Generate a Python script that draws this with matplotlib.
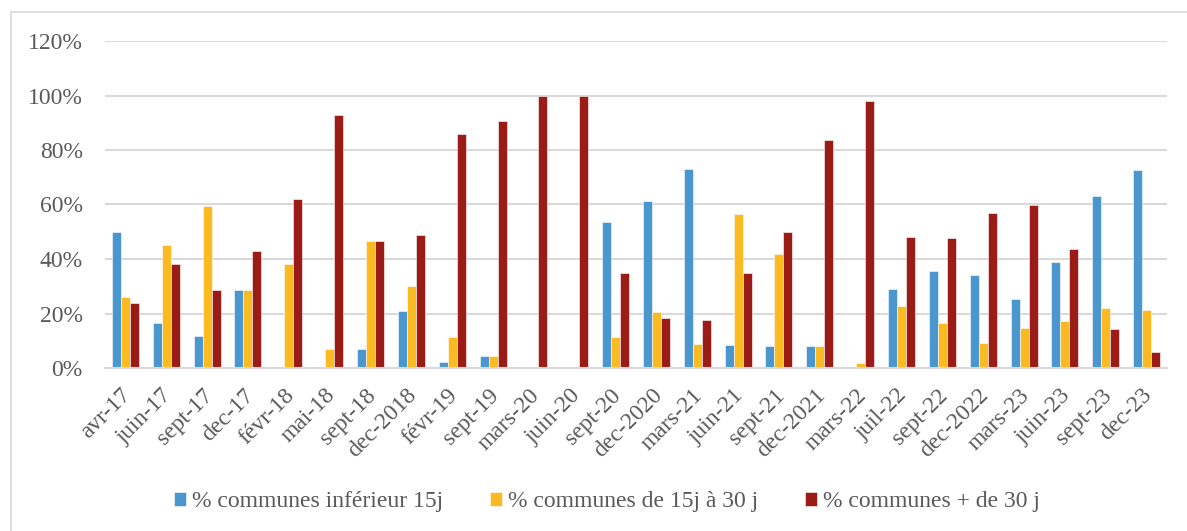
import numpy as np
import matplotlib.pyplot as plt
import matplotlib.transforms as mtransforms
from matplotlib.patches import Rectangle
from matplotlib.ticker import FuncFormatter

# periods and share of communes per delay bracket (%)
periods = ["avr-17", "juin-17", "sept-17", "dec-17", "févr-18", "mai-18",
           "sept-18", "dec-2018", "févr-19", "sept-19", "mars-20", "juin-20",
           "sept-20", "dec-2020", "mars-21", "juin-21", "sept-21", "dec-2021",
           "mars-22", "juil-22", "sept-22", "dec-2022", "mars-23", "juin-23",
           "sept-23", "dec-23"]
under_15 = [50, 16.5, 11.8, 28.5, 0, 0, 6.9, 20.8, 2.3, 4.5, 0, 0,
            53.5, 61.2, 73.2, 8.6, 8.2, 8.1, 0, 29, 35.5, 34, 25.4, 38.9,
            63, 72.6]
from_15_to_30 = [26.1, 45.1, 59.4, 28.5, 38, 6.9, 46.5, 30, 11.4, 4.5, 0, 0,
                 11.4, 20.4, 8.7, 56.4, 41.7, 8.1, 2, 22.9, 16.5, 9.1, 14.5,
                 17.1, 22.2, 21.2]
over_30 = [23.8, 38, 28.5, 42.8, 61.9, 92.9, 46.5, 48.7, 86, 90.6, 100, 100,
           34.7, 18.2, 17.6, 34.7, 49.9, 83.6, 97.9, 47.9, 47.6, 56.8, 59.9,
           43.6, 14.3, 5.9]
series_names = ["% communes inférieur 15j", "% communes de 15j à 30 j",
                "% communes + de 30 j"]
colors = ["#4A96CE", "#FBBA22", "#9B1B17"]

plt.rcParams['font.family'] = ['Liberation Serif', 'DejaVu Serif']
text_gray = "#595959"
grid_gray = "#D9D9D9"

fig = plt.figure(figsize=(11.87, 5.31), dpi=100)
fig.patches.append(Rectangle((11 / 1187, -0.1), 1.1, 1 - 12 / 531 + 0.1,
                             transform=fig.transFigure, fill=False,
                             edgecolor=grid_gray, linewidth=1.2))
ax = fig.add_axes([105 / 1187, 1 - 368 / 531, 1062 / 1187, 327 / 531])

x = np.arange(len(periods))
width = 0.22
for i, (vals, name, c) in enumerate(zip([under_15, from_15_to_30, over_30],
                                         series_names, colors)):
    ax.bar(x + (i - 1) * width, np.array(vals) / 100, width, color=c,
           label=name, edgecolor="white", linewidth=0.4, zorder=3)

ax.set_xlim(-0.5, len(periods) - 0.5)
ax.set_ylim(0, 1.2)
ax.set_yticks(np.arange(0, 1.21, 0.2))
ax.yaxis.set_major_formatter(FuncFormatter(lambda v, _: f"{v * 100:.0f}%"))
ax.grid(axis="y", color=grid_gray, linewidth=1.5, zorder=0)
ax.set_axisbelow(True)
for side in ["top", "right", "left"]:
    ax.spines[side].set_visible(False)
ax.spines["bottom"].set_color(grid_gray)
ax.spines["bottom"].set_linewidth(1.5)
ax.spines["bottom"].set_zorder(4)
ax.tick_params(length=0, labelsize=17, labelcolor=text_gray)
ax.tick_params(axis="y", pad=16)
ax.set_xticks(x)
ax.set_xticklabels(periods, rotation=45, ha="right", rotation_mode="anchor")
ax.tick_params(axis="x", pad=12)

# nudge the rotated labels a little to the left
shift = mtransforms.ScaledTranslation(-5 / 100, 0, fig.dpi_scale_trans)
for lbl in ax.get_xticklabels():
    lbl.set_transform(lbl.get_transform() + shift)

fig.legend(loc="center", bbox_to_anchor=(607 / 1187, 1 - 502 / 531), ncol=3,
           frameon=False, fontsize=17, labelcolor=text_gray,
           handlelength=0.5, handleheight=0.5, handletextpad=0.25,
           columnspacing=2.0)

fig.savefig("out.png", dpi=100)
